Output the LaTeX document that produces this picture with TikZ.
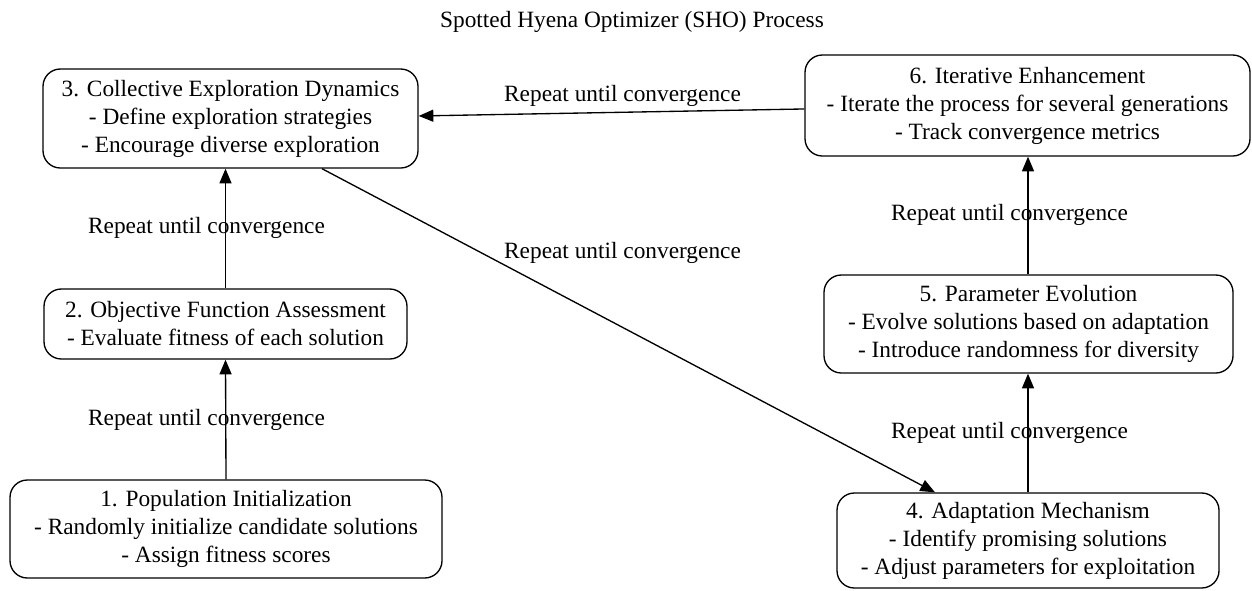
\documentclass[tikz,border=0pt]{standalone}
\usepackage{fontspec}
\setmainfont{Liberation Serif}
\usetikzlibrary{arrows.meta}
\begin{document}
\begin{tikzpicture}[x=0.75pt,y=-0.75pt,
  box/.style={draw, rounded corners=13pt, line width=1pt, align=center, inner sep=0pt,
    font=\fontsize{17.5}{21}\selectfont},
  lbl/.style={font=\fontsize{17.5}{21}\selectfont, inner sep=0pt},
  conn/.style={line width=1pt, -{Triangle[length=11pt,width=9pt]}}]
\useasboundingbox (0,0) rectangle (1252,590);
\node[lbl] (title) at (632,22) {Spotted Hyena Optimizer (SHO) Process};
\node[box, minimum width=281.25pt, minimum height=74.25pt] (n3) at (230.5,118.5)
  {3. Collective Exploration Dynamics\\ - Define exploration strategies\\ - Encourage diverse exploration};
\node[box, minimum width=272.25pt, minimum height=52.5pt] (n2) at (225.5,324)
  {2. Objective Function Assessment\\ - Evaluate fitness of each solution};
\node[box, minimum width=324pt, minimum height=73.5pt] (n1) at (226,529)
  {1. Population Initialization\\ - Randomly initialize candidate solutions\\ - Assign fitness scores};
\node[box, minimum width=333.75pt, minimum height=75.75pt] (n6) at (1027.5,105.5)
  {6. Iterative Enhancement\\ - Iterate the process for several generations\\ - Track convergence metrics};
\node[box, minimum width=306.75pt, minimum height=73.5pt] (n5) at (1028.5,324)
  {5. Parameter Evolution\\ - Evolve solutions based on adaptation\\ - Introduce randomness for diversity};
\node[box, minimum width=286.5pt, minimum height=71.25pt] (n4) at (1028,540.5)
  {4. Adaptation Mechanism\\ - Identify promising solutions\\ - Adjust parameters for exploitation};

\draw[conn] (n1.north) -- (n2.south);
\draw[conn] (n2.north) -- (n3.south -| n2.north);
\draw[conn] (n4.north) -- (n5.south -| n4.north);
\draw[conn] (n5.north -| n4.north) -- (n6.south -| n4.north);
\draw[conn] ([yshift=-2.6pt]n6.west) -- ([yshift=1.9pt]n3.east);
\draw[conn] ([xshift=68.6pt]n3.south) -- ([xshift=-69.75pt]n4.north);

\node[lbl] (l12) at (206.5,420) {Repeat until convergence};
\node[lbl] (l23) at (206.5,228) {Repeat until convergence};
\node[lbl] (l45) at (1009.5,433) {Repeat until convergence};
\node[lbl] (l56) at (1009.5,215) {Repeat until convergence};
\node[lbl] (l63) at (622.5,96) {Repeat until convergence};
\node[lbl] (l34) at (622.5,253) {Repeat until convergence};
\end{tikzpicture}
\end{document}
